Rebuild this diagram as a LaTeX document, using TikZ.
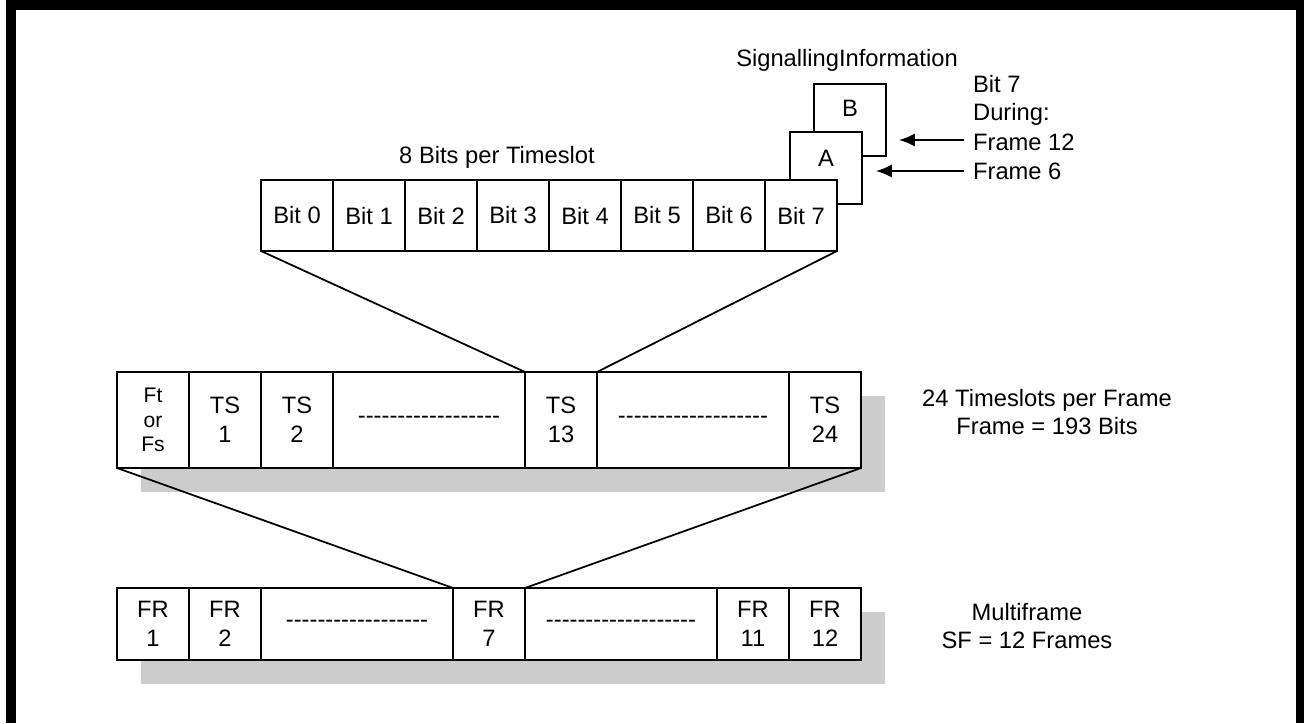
\documentclass[tikz,border=0pt]{standalone}
\usepackage{fontspec}
\setmainfont{Liberation Sans}
\usetikzlibrary{backgrounds,calc,positioning,arrows.meta}
\tikzset{>={Latex[length=9pt,width=7.5pt]}}
\tikzset{
  cell/.style = {draw, fill=white, line width=1pt, inner sep=0pt, outer sep=0pt,
    align=center, minimum width=1.44cm},
  bitcell/.style = {cell, minimum height=1.42cm, font=\fontsize{13.5}{16}\selectfont},
  tscell/.style = {cell, minimum height=1.92cm, font=\fontsize{13.5}{16.4}\selectfont},
  frcell/.style = {cell, minimum height=1.44cm, font=\fontsize{13.5}{16.4}\selectfont},
  sigcell/.style = {cell, minimum height=1.44cm},
  widecell/.style = {minimum width=3.84cm},
  shadow/.style = {fill=gray!40},
  lbl/.style = {font=\fontsize{13.5}{16.4}\selectfont, align=center, inner sep=0pt},
  lblleft/.style = {font=\fontsize{13.5}{16.2}\selectfont, align=left, inner sep=5pt, anchor=west}
}
% a row of plain hyphens (no dash ligatures)
\newcommand{\hyphrow}[1]{\foreach \k in {1,...,#1}{-{}}}

\begin{document}
\begin{tikzpicture}[x=0.02cm,y=-0.02cm]
  \pgfmathsetmacro{\bity}{215.5};
  \pgfmathsetmacro{\tsy}{420};
  \pgfmathsetmacro{\fry}{624};
  \useasboundingbox (0,0) rectangle (1304,723);
  % frame of the page
  \draw[line width=6pt] (11,723) -- (11,5) -- (1301,5) -- (1301,723);

  % signalling bits A and B behind bit 7
  \node[sigcell, label={[yshift=0.24cm,font=\fontsize{13.5}{14}\selectfont]center:B}] (sigB) at (850,120) {};
  \node[sigcell, label={[yshift=0.2cm,font=\fontsize{13.5}{14}\selectfont]center:A}] (sigA) at (826,168) {};

  % bits of one timeslot
  \foreach \i in {0,...,7}
    \node[bitcell] (bit\i) at ({297+72*\i},\bity) {Bit \i};
  \node[lbl] (bitsper) at (497,157) {8 Bits per Timeslot};

  % timeslots of one frame
  \node[tscell, font=\fontsize{12}{14}\selectfont] (fs) at (153,\tsy) {Ft\\or\\Fs};
  \node[tscell] (ts1) at (225,\tsy) {TS\\1};
  \node[tscell] (ts2) at (297,\tsy) {TS\\2};
  \node[tscell, widecell] (tsa) at (429,\tsy) {\hyphrow{18}};
  \node[tscell] (ts13) at (561,\tsy) {TS\\13};
  \node[tscell, widecell] (tsb) at (693,\tsy) {\hyphrow{19}};
  \node[tscell] (ts24) at (825,\tsy) {TS\\24};

  % frames of one multiframe
  \node[frcell] (fr1) at (153,\fry) {FR\\1};
  \node[frcell] (fr2) at (225,\fry) {FR\\2};
  \node[frcell, widecell] (fra) at (357,\fry) {\hyphrow{18}};
  \node[frcell] (fr7) at (489,\fry) {FR\\7};
  \node[frcell, widecell] (frb) at (621,\fry) {\hyphrow{19}};
  \node[frcell] (fr11) at (753,\fry) {FR\\11};
  \node[frcell] (fr12) at (825,\fry) {FR\\12};

  \begin{scope}[on background layer]
    \fill[shadow] ($(fs.north west)+(24,24)$) rectangle ($(ts24.south east)+(24,24)$);
    \fill[shadow] ($(fr1.north west)+(24,24)$) rectangle ($(fr12.south east)+(24,24)$);
  \end{scope}

  % expansion lines
  \draw[line width=1pt] (bit0.south west) -- (ts13.north west);
  \draw[line width=1pt] (bit7.south east) -- (ts13.north east);
  \draw[line width=1pt] (fs.south west) -- (fr7.north west);
  \draw[line width=1pt] (ts24.south east) -- (fr7.north east);

  % labels
  \node[lbl] (siginfo) at (847,60) {SignallingInformation};
  \node[lblleft] (during) at (964,100.5) {Bit 7\\During:};
  \node[lblleft] (frtwelve) at (964,142) {Frame 12};
  \node[lblleft] (frsix) at (964,171) {Frame 6};
  \coordinate (tipB) at (899,140);
  \coordinate (tipA) at (876,171);
  \draw[->, line width=1pt] (frtwelve.west |- tipB) -- (tipB);
  \draw[->, line width=1pt] (frsix.west |- tipA) -- (tipA);
  \node[lbl] (tsframe) at (1047,412) {24 Timeslots per Frame\\Frame = 193 Bits};
  \node[lbl] (multi) at (1027,626) {Multiframe\\SF = 12 Frames};
\end{tikzpicture}
\end{document}
